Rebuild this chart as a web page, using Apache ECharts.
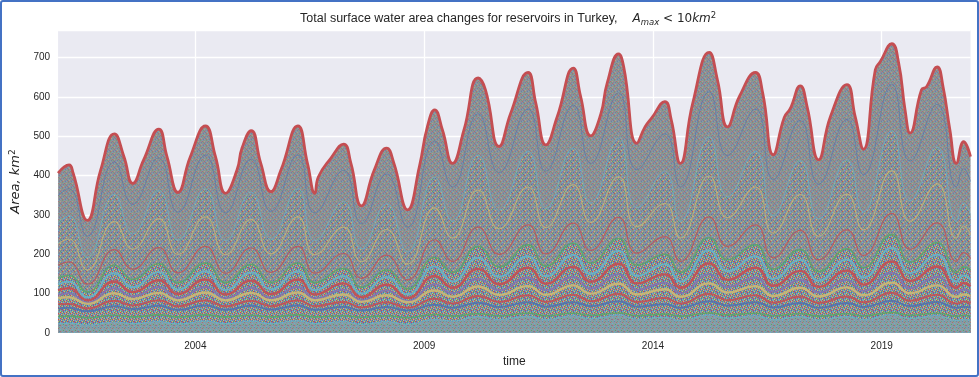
<!DOCTYPE html>
<html>
<head>
<meta charset="utf-8">
<script src="https://cdn.jsdelivr.net/npm/echarts@6/dist/echarts.min.js"></script>
<style>
html, body { margin: 0; padding: 0; background: #fff; }
#chart { width: 979px; height: 377px; }
</style>
</head>
<body>
<div id="chart"></div>
<script>
// top of the stack = summed area of all small reservoirs (km2), read at peaks, troughs and shoulders
const totalYears = [2001.00, 2001.24, 2001.33, 2001.64, 2001.93,
    2002.23, 2002.44, 2002.63, 2002.87, 2003.20, 2003.38, 2003.62, 2003.89,
    2004.22, 2004.44, 2004.66, 2004.91, 2005.02, 2005.22, 2005.43, 2005.65, 2005.87,
    2006.24, 2006.45, 2006.61, 2006.69, 2006.96, 2007.24, 2007.40, 2007.63, 2007.91,
    2008.18, 2008.34, 2008.64, 2008.90, 2009.07, 2009.23, 2009.40, 2009.62, 2009.87,
    2010.18, 2010.34, 2010.64, 2010.89, 2011.27, 2011.44, 2011.66, 2011.91,
    2012.26, 2012.42, 2012.64, 2012.86, 2013.00, 2013.25, 2013.36, 2013.65, 2013.83, 2013.97,
    2014.26, 2014.40, 2014.60, 2014.87, 2015.23, 2015.41, 2015.63, 2015.89,
    2016.24, 2016.40, 2016.63, 2016.87, 2017.00, 2017.22, 2017.37, 2017.62, 2017.88,
    2018.24, 2018.42, 2018.60, 2018.86, 2018.97, 2019.22, 2019.37, 2019.51, 2019.62, 2019.87, 2019.98,
    2020.21, 2020.34, 2020.49, 2020.63, 2020.79, 2020.94]
const totalArea = [406, 427, 406, 286, 414,
    506, 448, 380, 440, 518, 448, 357, 448,
    526, 448, 355, 414, 470, 514, 431, 359, 414,
    526, 431, 355, 397, 444, 480, 431, 323, 414,
    470, 431, 313, 425, 524, 567, 516, 431, 516,
    648, 618, 474, 558, 662, 584, 478, 550,
    673, 601, 501, 556, 635, 709, 677, 482, 524, 546,
    588, 542, 431, 584, 713, 643, 524, 601,
    662, 609, 453, 548, 570, 628, 575, 440, 550,
    631, 550, 467, 669, 690, 735, 686, 567, 508, 618, 626,
    676, 626, 516, 431, 486, 448]

// some of the inner cumulative lines, read at the peaks / troughs only
const bandYears = [2001.00, 2001.24, 2001.64, 2002.23, 2002.63, 2003.20, 2003.62, 2004.22, 2004.66,
    2005.22, 2005.65, 2006.24, 2006.61, 2007.24, 2007.63, 2008.18, 2008.64, 2009.23, 2009.62,
    2010.18, 2010.64, 2011.27, 2011.66, 2012.26, 2012.64, 2013.25, 2013.65, 2014.26, 2014.60,
    2015.23, 2015.63, 2016.24, 2016.63, 2017.22, 2017.62, 2018.24, 2018.60, 2019.22, 2019.62,
    2020.21, 2020.63, 2020.79, 2020.94]
const lineNearTop = [349, 367, 246, 435, 327, 445, 307, 452, 305,
    442, 309, 452, 305, 413, 278, 404, 269, 488, 371,
    557, 408, 569, 411, 579, 431, 610, 415, 506, 371,
    613, 451, 569, 390, 540, 378, 543, 402, 632, 437,
    581, 371, 418, 385]
const upperBand = [280, 298, 192, 352, 252, 362, 236, 366, 234,
    358, 238, 366, 234, 334, 214, 328, 206, 396, 284,
    452, 312, 462, 316, 470, 330, 496, 318, 410, 284,
    498, 346, 462, 298, 438, 290, 440, 308, 514, 336,
    472, 284, 330, 300]
const lineUpperMid = [227, 239, 160, 283, 213, 290, 200, 295, 199,
    288, 201, 295, 199, 269, 181, 263, 175, 318, 241,
    363, 265, 371, 268, 377, 281, 397, 270, 329, 241,
    399, 293, 371, 254, 352, 246, 353, 262, 412, 284,
    379, 241, 272, 251]
const lineLowerMid = [172, 181, 124, 212, 162, 217, 153, 220, 152,
    216, 154, 220, 152, 202, 139, 198, 135, 237, 182,
    269, 200, 275, 201, 279, 210, 294, 203, 245, 182,
    295, 220, 275, 191, 261, 186, 262, 197, 304, 213,
    280, 182, 204, 189]
const middleBand = [140, 146, 104, 172, 136, 176, 128, 178, 128,
    174, 128, 178, 128, 164, 116, 160, 112, 192, 154,
    220, 168, 224, 170, 228, 178, 240, 172, 200, 154,
    242, 186, 224, 162, 212, 156, 214, 166, 250, 180,
    230, 154, 168, 160]
const lineCyan = [124, 130, 90, 152, 116, 155, 110, 157, 109,
    154, 111, 157, 109, 144, 100, 142, 98, 169, 131,
    191, 143, 195, 144, 198, 150, 209, 145, 175, 131,
    210, 157, 195, 137, 186, 133, 187, 141, 216, 152,
    199, 131, 146, 135]
const lineRed = [109, 114, 83, 131, 104, 134, 99, 136, 98,
    133, 99, 136, 98, 126, 91, 123, 89, 145, 115,
    163, 124, 166, 125, 168, 130, 176, 126, 149, 115,
    177, 135, 166, 120, 158, 117, 159, 123, 182, 132,
    169, 115, 127, 119]
const linePurple = [97, 101, 77, 114, 93, 116, 89, 117, 88,
    115, 89, 117, 88, 110, 83, 108, 81, 124, 101,
    138, 109, 141, 109, 142, 113, 149, 110, 128, 101,
    149, 117, 141, 105, 135, 103, 135, 107, 153, 114,
    143, 101, 111, 104]
const lineYellow = [89, 91, 74, 101, 86, 102, 83, 103, 83,
    102, 83, 103, 83, 98, 79, 96, 78, 108, 92,
    118, 97, 119, 97, 121, 100, 125, 98, 111, 92,
    126, 103, 119, 94, 115, 93, 116, 96, 128, 101,
    121, 92, 98, 94]
const lineRedLow = [73, 74, 62, 82, 70, 83, 68, 83, 68,
    82, 68, 83, 68, 79, 65, 78, 64, 87, 75,
    94, 79, 96, 79, 97, 81, 100, 79, 89, 75,
    100, 83, 96, 77, 93, 76, 93, 78, 102, 82,
    97, 75, 80, 76]
const lineBlue = [62, 64, 55, 68, 61, 69, 59, 70, 59,
    69, 60, 70, 59, 67, 57, 66, 57, 72, 64,
    77, 66, 78, 67, 78, 68, 81, 67, 73, 64,
    81, 69, 78, 65, 76, 64, 76, 66, 82, 68,
    79, 64, 67, 65]
const lineGreen = [42, 43, 39, 45, 41, 46, 41, 46, 41,
    45, 41, 46, 41, 44, 40, 44, 39, 47, 43,
    49, 44, 50, 44, 50, 45, 51, 44, 48, 43,
    51, 46, 50, 44, 49, 43, 49, 44, 52, 45,
    50, 43, 45, 43]
const lowerBand = [24, 25, 20, 28, 24, 29, 23, 30, 24,
    30, 24, 31, 24, 29, 22, 29, 22, 35, 30,
    42, 34, 43, 34, 44, 36, 46, 35, 40, 32,
    46, 38, 44, 34, 42, 33, 42, 34, 47, 37,
    45, 32, 35, 33]

const yearTicks = [2004, 2009, 2014, 2019]
const areaTicks = [0, 100, 200, 300, 400, 500, 600, 700]

// seaborn deep colours
const B = '#4C72B0', G = '#55A868', R = '#C44E52', P = '#8172B2', Y = '#CCB974', C = '#64B5CD'

// hundreds of thin lines blend into a speckled fill -> small tiled patterns
const swatch = {
    g: '#8d9195', h: '#8b9aa0',
    a: '#6c82a2', b: '#aca584', c: '#8781a3', d: '#78a3b1', e: '#a86f73', f: '#719c7e',
    B: B, G: G, R: R, P: P, Y: Y, C: C
}
function tile(map) {
    let cv = document.createElement('canvas')
    cv.width = map[0].length
    cv.height = map.length
    let ctx = cv.getContext('2d')
    map.forEach((row, y) => {
        for (let x = 0; x < row.length; x++) {
            ctx.fillStyle = swatch[row[x]]
            ctx.fillRect(x, y, 1, 1)
        }
    })
    return { image: cv, repeat: 'repeat' }
}

const topFill = tile(['gagbgc', 'dgegga', 'ggfgdg', 'bgggeg', 'gcgagf', 'egdggg'])
const upperFill = tile(['gBgYgc', 'dgRgga', 'ggfgCg', 'YgggPg', 'gagBge', 'Ggdggb'])
const middleFill = tile(['RgYBgC', 'gPGgRY', 'BYgCPg', 'gRBgYG', 'CgPRgB', 'YGgBCg'])
const lowerFill = tile(['hdhGhh', 'ehhdha', 'hhChhd', 'dhahhf', 'hhdheh', 'Chhhdh'])

function pairs(xs, ys) {
    return xs.map((x, i) => [x, ys[i]])
}

function band(name, xs, ys, fill) {
    return {
        type: 'line', name: name, data: pairs(xs, ys),
        smooth: 0.5, showSymbol: false, symbol: 'none',
        lineStyle: { width: 0, opacity: 0 },
        areaStyle: { color: fill, opacity: 1 },
        silent: true
    }
}

function thinLine(name, ys, color, width, alpha) {
    return {
        type: 'line', name: name, data: pairs(bandYears, ys),
        smooth: 0.5, showSymbol: false, symbol: 'none', silent: true,
        lineStyle: { color: color, width: width, opacity: alpha }
    }
}

let myChart = echarts.init(document.getElementById('chart'))
let option = {
    animation: false,
    backgroundColor: '#fff',
    title: {
        left: 300, top: 11, padding: 0,
        text: 'Total surface water area changes for reservoirs in Turkey,{gap| }{i|A}{sub|max}{m| < 10}{i|km}{sup|2}',
        textStyle: {
            fontFamily: 'Liberation Sans', fontSize: 12.5, fontWeight: 'normal', color: '#262626', lineHeight: 16,
            rich: {
                gap: { width: 15, lineHeight: 16 },
                i: { fontFamily: 'DejaVu Sans', fontStyle: 'italic', fontSize: 12, color: '#262626', lineHeight: 16 },
                m: { fontFamily: 'DejaVu Sans', fontSize: 12, color: '#262626', lineHeight: 16 },
                sub: { fontFamily: 'DejaVu Sans', fontStyle: 'italic', fontSize: 8.5, color: '#262626', lineHeight: 9, verticalAlign: 'bottom' },
                sup: { fontFamily: 'DejaVu Sans', fontSize: 8.5, color: '#262626', lineHeight: 9, verticalAlign: 'top' }
            }
        }
    },
    grid: {
        left: 56.5, right: 8.5, top: 30, bottom: 44,
        show: true, backgroundColor: '#EAEAF2', borderWidth: 0
    },
    xAxis: {
        type: 'value', min: 2001.0, max: 2020.94,
        name: 'time', nameLocation: 'middle', nameGap: 22,
        nameTextStyle: { fontFamily: 'Liberation Sans', fontSize: 12, color: '#262626' },
        axisLine: { show: false },
        axisTick: { show: false, customValues: yearTicks },
        axisLabel: {
            customValues: yearTicks, margin: 8,
            fontFamily: 'Liberation Sans', fontSize: 10, color: '#262626',
            formatter: v => String(Math.round(v))
        },
        splitLine: { show: true, lineStyle: { color: '#fff', width: 1.3 } }
    },
    yAxis: {
        type: 'value', min: 0, max: 770, interval: 100,
        name: '{i|Area, km}{sup|2}', nameLocation: 'middle', nameGap: 30, nameRotate: 90,
        nameTextStyle: {
            rich: {
                i: { fontFamily: 'DejaVu Sans', fontStyle: 'italic', fontSize: 13, color: '#262626', lineHeight: 16 },
                sup: { fontFamily: 'DejaVu Sans', fontSize: 9, color: '#262626', lineHeight: 9, verticalAlign: 'top' }
            }
        },
        axisLine: { show: false },
        axisTick: { show: false },
        axisLabel: {
            margin: 8, fontFamily: 'Liberation Sans', fontSize: 10, color: '#262626',
            formatter: v => (areaTicks.indexOf(v) >= 0 ? String(v) : '')
        },
        splitLine: { show: true, lineStyle: { color: '#fff', width: 1.3 } }
    },
    graphic: [{
        type: 'rect', silent: true, z: 100,
        shape: { x: 1, y: 1, width: 977, height: 375, r: 2 },
        style: { fill: null, stroke: '#4472C4', lineWidth: 2 }
    }],
    series: [
        band('total', totalYears, totalArea, topFill),
        band('upper', bandYears, upperBand, upperFill),
        band('middle', bandYears, middleBand, middleFill),
        band('lower', bandYears, lowerBand, lowerFill),
        thinLine('near top', lineNearTop, B, 1, 0.55),
        thinLine('upper edge', upperBand, C, 1, 0.6),
        thinLine('upper mid', lineUpperMid, Y, 1.1, 0.7),
        thinLine('lower mid', lineLowerMid, R, 1.2, 0.75),
        thinLine('middle edge', middleBand, G, 1.6, 0.8),
        thinLine('cyan', lineCyan, C, 2, 0.85),
        thinLine('red', lineRed, R, 2.4, 0.9),
        thinLine('purple', linePurple, P, 2, 0.85),
        thinLine('yellow', lineYellow, Y, 2.4, 0.9),
        thinLine('red low', lineRedLow, R, 2, 0.85),
        thinLine('blue', lineBlue, B, 2, 0.85),
        thinLine('green', lineGreen, G, 1.6, 0.8),
        thinLine('lower edge', lowerBand, C, 1.2, 0.7),
        {
            type: 'line', name: 'top line', data: pairs(totalYears, totalArea),
            smooth: 0.5, showSymbol: false, symbol: 'none', silent: true, z: 3,
            lineStyle: { color: R, width: 2.8 }
        }
    ]
}
myChart.setOption(option)
</script>
</body>
</html>
